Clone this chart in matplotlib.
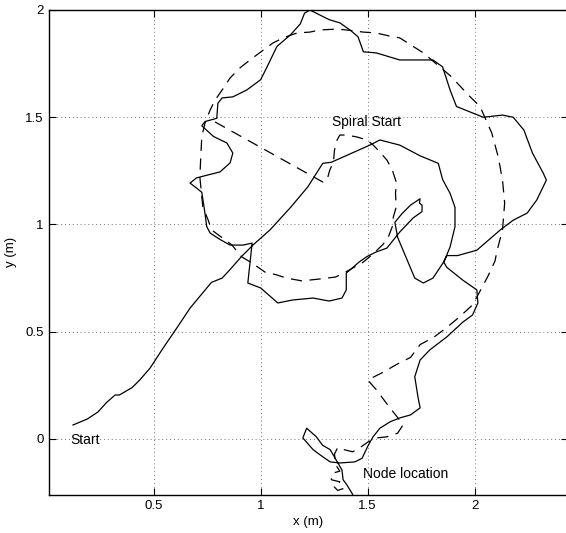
import matplotlib
matplotlib.use('Agg')
import matplotlib.pyplot as plt

plt.rcParams['font.family'] = ['Liberation Sans', 'DejaVu Sans']

# measured robot path (solid)
path_x = [0.123, 0.19, 0.24, 0.28, 0.32, 0.34, 0.40, 0.435, 0.483, 0.545, 0.61, 0.67, 0.72, 0.77, 0.82, 0.857, 0.91, 0.965,
          1.044, 1.14, 1.22, 1.29, 1.33, 1.42, 1.51, 1.557, 1.65, 1.745, 1.83, 1.85, 1.885, 1.908, 1.908, 1.885, 1.86, 1.855,
          1.805, 1.76, 1.72, 1.684, 1.64, 1.627, 1.66, 1.70, 1.745, 1.742, 1.754, 1.754, 1.712, 1.65, 1.59, 1.54, 1.496, 1.46,
          1.42, 1.40, 1.40, 1.38, 1.32, 1.245, 1.15, 1.08, 1.0, 0.94, 0.95, 0.96, 0.918, 0.857, 0.81, 0.764, 0.748, 0.74,
          0.725, 0.70, 0.67, 0.70, 0.75, 0.81, 0.857, 0.87, 0.842, 0.78, 0.725, 0.74, 0.795, 0.80, 0.82, 0.87, 0.935, 1.0,
          1.03, 1.076, 1.14, 1.185, 1.205, 1.23, 1.26, 1.32, 1.37, 1.42, 1.455, 1.48, 1.54, 1.65, 1.805, 1.85, 1.885, 1.915,
          2.04, 2.13, 2.18, 2.23, 2.27, 2.32, 2.335, 2.29, 2.245, 2.18, 2.12, 2.01, 1.92, 1.87, 1.855,
          1.87, 1.945, 2.01, 2.015, 1.99, 1.945, 1.87, 1.79, 1.745, 1.72, 1.735, 1.745, 1.70, 1.65, 1.605, 1.557, 1.525, 1.50,
          1.474, 1.44, 1.37, 1.325, 1.29, 1.245, 1.197, 1.215, 1.26, 1.29, 1.325, 1.36, 1.38, 1.385, 1.40, 1.425, 1.44]
path_y = [0.065, 0.093, 0.126, 0.17, 0.205, 0.205, 0.24, 0.275, 0.33, 0.425, 0.52, 0.61, 0.67, 0.73, 0.75, 0.79, 0.85, 0.905,
          0.975, 1.08, 1.175, 1.285, 1.29, 1.33, 1.37, 1.394, 1.37, 1.32, 1.285, 1.21, 1.145, 1.08, 0.99, 0.895, 0.835, 0.825,
          0.75, 0.727, 0.75, 0.835, 0.94, 1.01, 1.05, 1.09, 1.12, 1.10, 1.09, 1.06, 1.03, 0.965, 0.89, 0.872, 0.85, 0.825,
          0.79, 0.774, 0.695, 0.657, 0.643, 0.657, 0.648, 0.634, 0.704, 0.727, 0.82, 0.913, 0.904, 0.904, 0.93, 0.96, 0.99, 1.05,
          1.15, 1.17, 1.193, 1.217, 1.23, 1.245, 1.287, 1.333, 1.38, 1.41, 1.46, 1.48, 1.495, 1.565, 1.59, 1.595, 1.627, 1.675,
          1.735, 1.83, 1.885, 1.935, 1.985, 2.0, 1.985, 1.955, 1.94, 1.905, 1.875, 1.805, 1.80, 1.767, 1.767, 1.735, 1.627, 1.55,
          1.50, 1.51, 1.50, 1.44, 1.333, 1.24, 1.207, 1.114, 1.053, 1.02, 0.975, 0.88, 0.855, 0.855, 0.825,
          0.80, 0.74, 0.695, 0.634, 0.578, 0.545, 0.476, 0.415, 0.368, 0.29, 0.196, 0.145, 0.112, 0.098, 0.08, 0.05, 0.01, -0.035,
          -0.09, -0.107, -0.112, -0.107, -0.083, -0.05, 0.005, 0.05, 0.01, -0.03, -0.05, -0.11, -0.145, -0.19, -0.21, -0.25, -0.28]

# planned spiral (dashed)
spiral_x = [0.787, 1.29, 1.31, 1.323, 1.34, 1.345, 1.357, 1.37, 1.40, 1.45, 1.496, 1.525, 1.557, 1.59, 1.615, 1.635, 1.63,
            1.633, 1.62, 1.615, 1.596, 1.57, 1.51, 1.48, 1.40, 1.35, 1.277, 1.193, 1.12, 1.075, 1.02, 0.96, 0.91, 0.866,
            0.834, 0.77, 0.755, 0.73, 0.725, 0.716, 0.72, 0.725, 0.74, 0.764, 0.787, 0.82, 0.857, 0.903, 0.95, 1.0, 1.057,
            1.105, 1.17, 1.23, 1.277, 1.357, 1.40, 1.48, 1.54, 1.60, 1.65, 1.76, 1.89, 1.97, 2.025, 2.08, 2.11, 2.13, 2.14,
            2.13, 2.105, 2.095, 2.06, 2.02, 1.99, 1.93, 1.87, 1.81, 1.745, 1.70, 1.64, 1.57, 1.50, 1.54, 1.60, 1.64, 1.665,
            1.64, 1.59, 1.545, 1.50, 1.465, 1.43, 1.39, 1.36, 1.345, 1.35, 1.37, 1.335, 1.33, 1.37, 1.34, 1.36, 1.39]
spiral_y = [1.478, 1.198, 1.207, 1.254, 1.29, 1.347, 1.394, 1.417, 1.417, 1.408, 1.394, 1.371, 1.338, 1.30, 1.254, 1.193, 1.147,
            1.08, 1.035, 0.99, 0.94, 0.905, 0.85, 0.825, 0.78, 0.755, 0.746, 0.737, 0.75, 0.765, 0.778, 0.82, 0.85, 0.904,
            0.928, 0.975, 1.02, 1.08, 1.128, 1.22, 1.315, 1.41, 1.473, 1.534, 1.58, 1.627, 1.683, 1.73, 1.767, 1.804, 1.846,
            1.87, 1.893, 1.897, 1.907, 1.911, 1.907, 1.897, 1.893, 1.879, 1.87, 1.80, 1.69, 1.604, 1.55, 1.426, 1.315, 1.207, 1.10,
            0.975, 0.88, 0.83, 0.755, 0.68, 0.625, 0.57, 0.52, 0.475, 0.44, 0.38, 0.35, 0.31, 0.275, 0.23, 0.15, 0.10, 0.065,
            0.027, 0.01, 0.005, -0.015, -0.04, -0.06, -0.05, -0.04, -0.07, -0.12, -0.15, -0.16, -0.19, -0.2, -0.22, -0.24, -0.23]

labels = ["Start", "Spiral Start", "Node location"]
label_x = [0.112, 1.334, 1.478]
label_y = [-0.005, 1.478, -0.163]

fig = plt.figure(figsize=(5.66, 5.33), dpi=100)
ax = fig.add_axes([49 / 566, 38.5 / 533, 519 / 566, 484.5 / 533])

ax.plot(path_x, path_y, color='k', lw=0.9)
ax.plot(spiral_x, spiral_y, color='k', lw=0.9, linestyle=(0, (9, 6)))

for t, lx, ly in zip(labels, label_x, label_y):
    ax.text(lx, ly, t, fontsize=10, va='center', ha='left')

ax.set_xlim(0.011, 2.436)
ax.set_ylim(-0.259, 2.0)
ax.set_xticks([0.5, 1, 1.5, 2])
ax.set_xticklabels(['0.5', '1', '1.5', '2'])
ax.set_yticks([0, 0.5, 1, 1.5, 2])
ax.set_yticklabels(['0', '0.5', '1', '1.5', '2'])
ax.tick_params(direction='in', length=5, width=0.8, top=True, right=True, labelsize=9.5, pad=4)
ax.grid(True, linestyle=(0, (1, 3)), color='0.45', lw=0.7)
for s in ax.spines.values():
    s.set_linewidth(1.0)

ax.set_xlabel('x (m)', fontsize=9.5, labelpad=3)
ax.set_ylabel('y (m)', fontsize=9.5, labelpad=6)

fig.savefig('out.png', dpi=100)
